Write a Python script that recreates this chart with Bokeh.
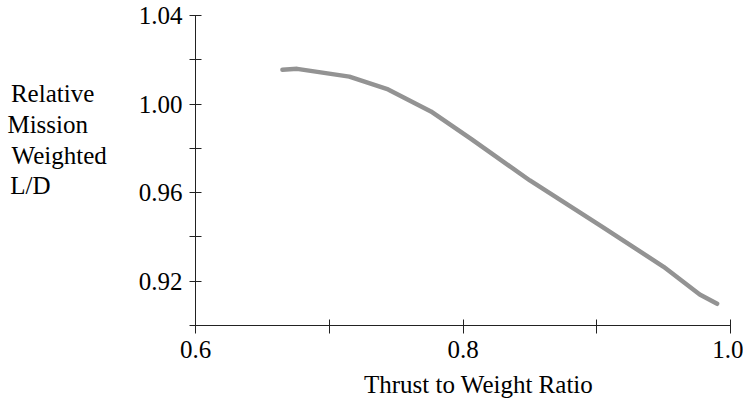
from bokeh.plotting import figure
from bokeh.models import FixedTicker, Range1d
from bokeh.embed import file_html
from bokeh.resources import INLINE

# data
thrust_to_weight = [0.665, 0.676, 0.715, 0.744, 0.776, 0.806, 0.850, 0.903, 0.950, 0.977, 0.990]
relative_ld = [1.0155, 1.0159, 1.0124, 1.0066, 0.9967, 0.9843, 0.9655, 0.9450, 0.9265, 0.9140, 0.9098]

x_major = [0.6, 0.8, 1.0]
x_minor = [0.7, 0.9]
y_major = [0.92, 0.96, 1.00, 1.04]
y_minor = [0.90, 0.94, 0.98, 1.02]
y_label_lines = ["Relative", "Mission", "Weighted", "L/D"]
x_label = "Thrust to Weight Ratio"

FONT = "Liberation Serif"
FS = "25px"
NBSP = "\u00a0"
# trailing pads so the right-justified axis label lines look left-aligned
pads = [2, 3, 0, 9]

p = figure(width=743, height=400, output_backend="svg", toolbar_location=None,
           x_range=Range1d(0.6, 1.0), y_range=Range1d(0.90, 1.04),
           min_border_left=195, min_border_right=13, min_border_top=15, min_border_bottom=71)
p.outline_line_color = None
p.grid.visible = False
p.background_fill_color = "white"

p.line(thrust_to_weight, relative_ld, line_color="#939393", line_width=4.5, line_cap="round")

p.xaxis.ticker = FixedTicker(ticks=x_major, minor_ticks=x_minor)
p.yaxis.ticker = FixedTicker(ticks=y_major, minor_ticks=y_minor)
p.xaxis.major_label_overrides = {0.6: "0.6", 0.8: "0.8", 1.0: "1.0"}
p.yaxis.major_label_overrides = {0.92: "0.92", 0.96: "0.96", 1.0: "1.00", 1.04: "1.04"}

for ax in (p.xaxis[0], p.yaxis[0]):
    ax.axis_line_color = "#222222"
    ax.major_tick_line_color = "#222222"
    ax.minor_tick_line_color = "#222222"
    ax.major_label_text_font = FONT
    ax.major_label_text_font_size = FS
    ax.major_label_text_color = "black"
    ax.axis_label_text_font = FONT
    ax.axis_label_text_font_size = FS
    ax.axis_label_text_font_style = "normal"
    ax.axis_label_text_color = "black"

p.xaxis.major_tick_in = 6
p.xaxis.major_tick_out = 8
p.xaxis.minor_tick_in = 6
p.xaxis.minor_tick_out = 8
p.yaxis.major_tick_in = 6
p.yaxis.major_tick_out = 6
p.yaxis.minor_tick_in = 6
p.yaxis.minor_tick_out = 6
p.xaxis.major_label_standoff = 7
p.yaxis.major_label_standoff = 7
p.xaxis.axis_label = NBSP * 5 + x_label
p.xaxis.axis_label_standoff = 10

p.yaxis.axis_label = "\n".join(l + NBSP * n for l, n in zip(y_label_lines, pads)) + "\n\n"
p.yaxis.axis_label_orientation = "horizontal"
p.yaxis.axis_label_text_line_height = 1.14
p.yaxis.axis_label_standoff = 29

open("out.html", "w").write(file_html(p, INLINE))
